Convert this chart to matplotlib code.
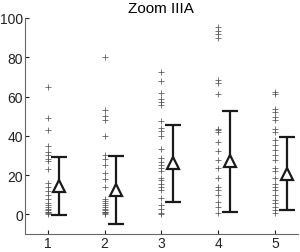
import numpy as np
import matplotlib
matplotlib.use("Agg")
import matplotlib.pyplot as plt

plt.rcParams["font.family"] = ["Liberation Sans", "DejaVu Sans"]

# Scatter values per group
groups = [1, 2, 3, 4, 5]
g1 = [65, 49, 43, 35, 32, 30, 28, 27, 23, 16, 14, 12, 10, 8, 6, 5, 4, 3, 2, 1, 1, 0.5, 0]
g2 = [80, 53, 50, 48, 40, 30, 28, 25, 21, 18, 14, 8, 7, 6, 5, 4, 3, 2, 1, 1, 0.5, 0]
g3 = [72.4, 67.9, 61.8, 58.9, 57, 55.5, 47.5, 44, 42.6, 40, 33.5, 28.8, 26.7, 25.4,
      23.4, 22.3, 18.6, 17.4, 15.7, 14, 12.3, 8.1, 4.7, 3, 0.8, 0]
g4 = [95.3, 93.6, 91.9, 89.8, 68.2, 67, 61.4, 43.7, 42.8, 42, 36.9, 32.3, 27.6, 23.4,
      18.3, 14.1, 12.4, 9.8, 6.4, 3.9, 0.5]
g5 = [62.3, 61.5, 53.8, 52, 49.6, 48, 43.7, 42, 37.7, 35.2, 32.7, 30.1, 27.6, 23.4,
      22, 18.3, 15.7, 14, 12.3, 9.8, 7.3, 5.6, 3.9, 2.2, 0.5]
values = [g1, g2, g3, g4, g5]

# Mean and spread shown by the error bars
means = [14.4, 12.2, 26.0, 27.0, 20.8]
stds = [14.7, 17.3, 19.7, 25.8, 18.4]

fig = plt.figure(figsize=(3.0, 2.53), dpi=100)
ax = fig.add_axes([0.083, 0.071, 0.91, 0.854])

for g, vals in zip(groups, values):
    ax.plot([g] * len(vals), vals, linestyle="none", marker="+",
            markersize=4, markeredgewidth=0.55, color="#555555")

ax.errorbar(np.array(groups) + 0.2, means, yerr=stds, fmt="^",
            color="#1a1a1a", markerfacecolor="white", markersize=9,
            markeredgewidth=1.6, elinewidth=1.6, capsize=6, capthick=1.6)

ax.set_xlim(0.6, 5.4)
ax.set_ylim(-10, 100)
ax.set_xticks(groups)
ax.set_yticks([0, 20, 40, 60, 80, 100])
ax.tick_params(direction="in", length=3, labelsize=10, pad=1.5, colors="#222222")
for side in ["top", "right"]:
    ax.spines[side].set_visible(False)
for side in ["left", "bottom"]:
    ax.spines[side].set_color("#666666")
    ax.spines[side].set_linewidth(0.8)
ax.set_title("Zoom IIIA", fontsize=11, pad=4)

fig.savefig("out.png", dpi=100)
